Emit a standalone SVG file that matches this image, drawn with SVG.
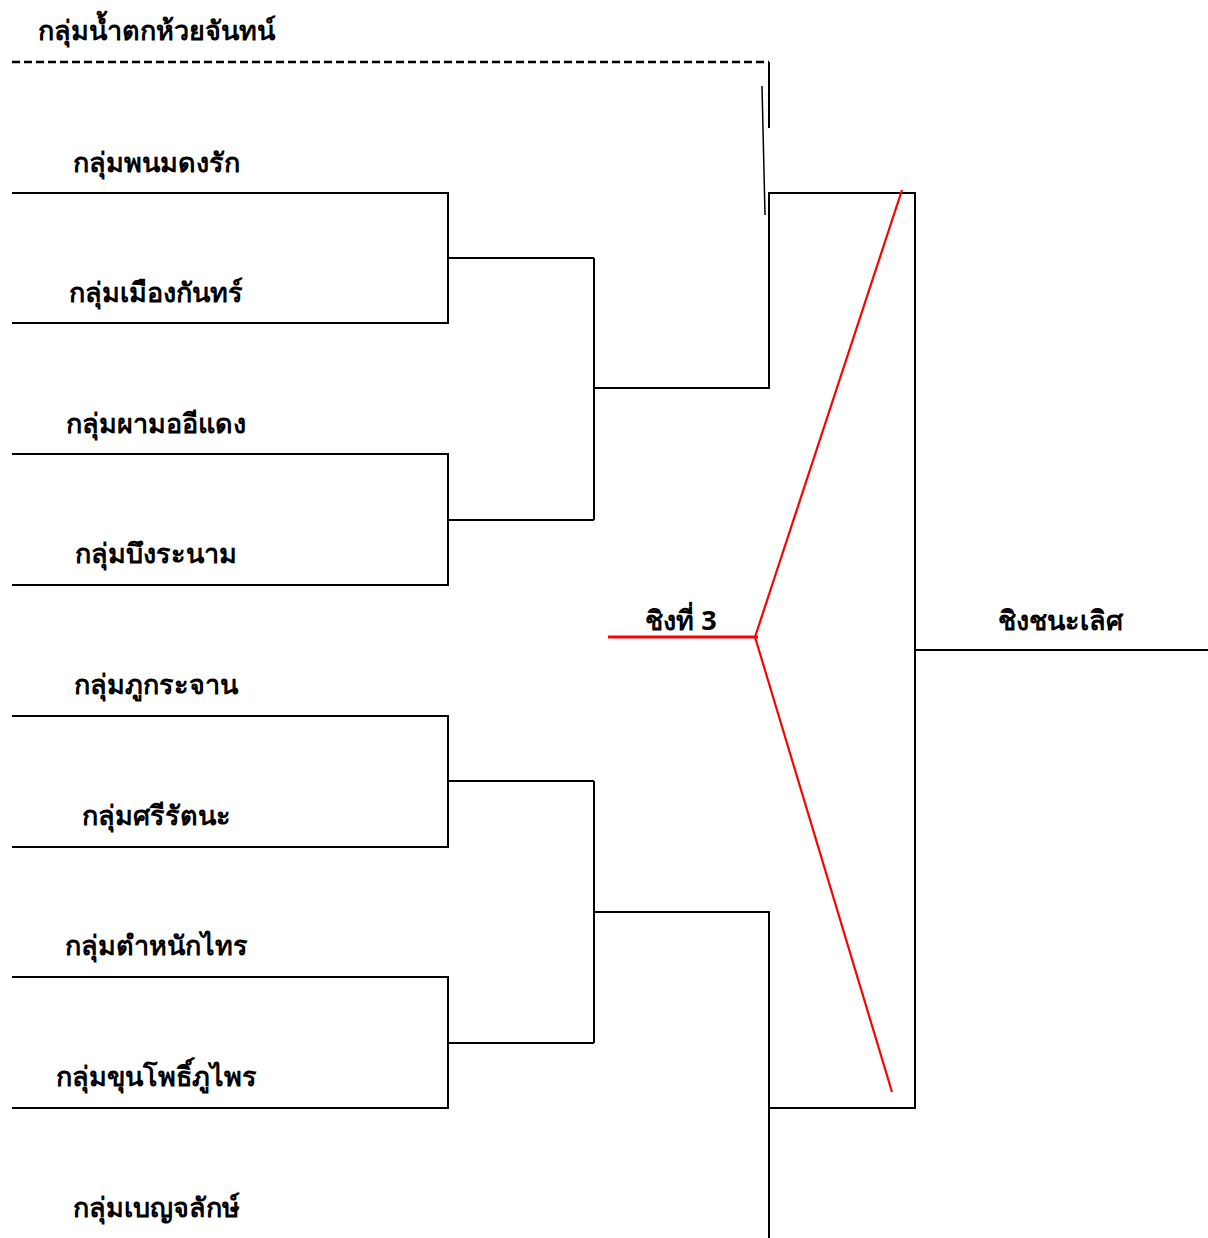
<svg xmlns="http://www.w3.org/2000/svg" width="1208" height="1238" viewBox="0 0 1208 1238">
<style>
.t{font-family:"Noto Sans","DejaVu Sans",sans-serif;font-size:27px;font-weight:bold;fill:#000;text-anchor:middle}
.k{stroke:#000;stroke-width:2;fill:none}
.r{stroke:#ff0000;stroke-width:2.2;fill:none}
</style>
<rect width="1208" height="1238" fill="#fff"/>
<g id="n1"><text class="t" x="156" y="40">กลุ่มน้ำตกห้วยจันทน์</text></g>
<g id="n2"><text class="t" x="156" y="172">กลุ่มพนมดงรัก</text></g>
<g id="n3"><text class="t" x="156" y="302">กลุ่มเมืองกันทร์</text></g>
<g id="n4"><text class="t" x="156" y="433">กลุ่มผามออีแดง</text></g>
<g id="n5"><text class="t" x="156" y="563">กลุ่มบึงระนาม</text></g>
<g id="n6"><text class="t" x="156" y="694">กลุ่มภูกระจาน</text></g>
<g id="n7"><text class="t" x="156" y="825">กลุ่มศรีรัตนะ</text></g>
<g id="n8"><text class="t" x="156" y="955">กลุ่มตำหนักไทร</text></g>
<g id="n9"><text class="t" x="156" y="1086">กลุ่มขุนโพธิ์ภูไพร</text></g>
<g id="n10"><text class="t" x="156" y="1217">กลุ่มเบญจลักษ์</text></g>
<g id="third"><text class="t" x="681" y="630">ชิงที่ 3</text></g>
<g id="final"><text class="t" x="1060" y="630">ชิงชนะเลิศ</text></g>
<g id="connectors">
<path d="M12 62H769" stroke="#000" stroke-width="2.5" stroke-dasharray="8,4"/>
<path class="k" d="M769 62V128"/>
<path d="M762 86L765 215" stroke="#000" stroke-width="1.5"/>
<path class="k" d="M12 193H448V323H12M448 258H594"/>
<path class="k" d="M12 454H448V585H12M448 520H594"/>
<path class="k" d="M594 258V520M594 388H769V193H915V1108H769"/>
<path class="k" d="M12 716H448V847H12M448 781H594"/>
<path class="k" d="M12 977H448V1108H12M448 1043H594"/>
<path class="k" d="M594 781V1043M594 912H769V1238"/>
<path class="k" d="M915 650H1208"/>
<path d="M608 637H758" stroke="#ff0000" stroke-width="3"/>
<path class="r" d="M902 190L755 637L892 1092"/>
</g>
</svg>
